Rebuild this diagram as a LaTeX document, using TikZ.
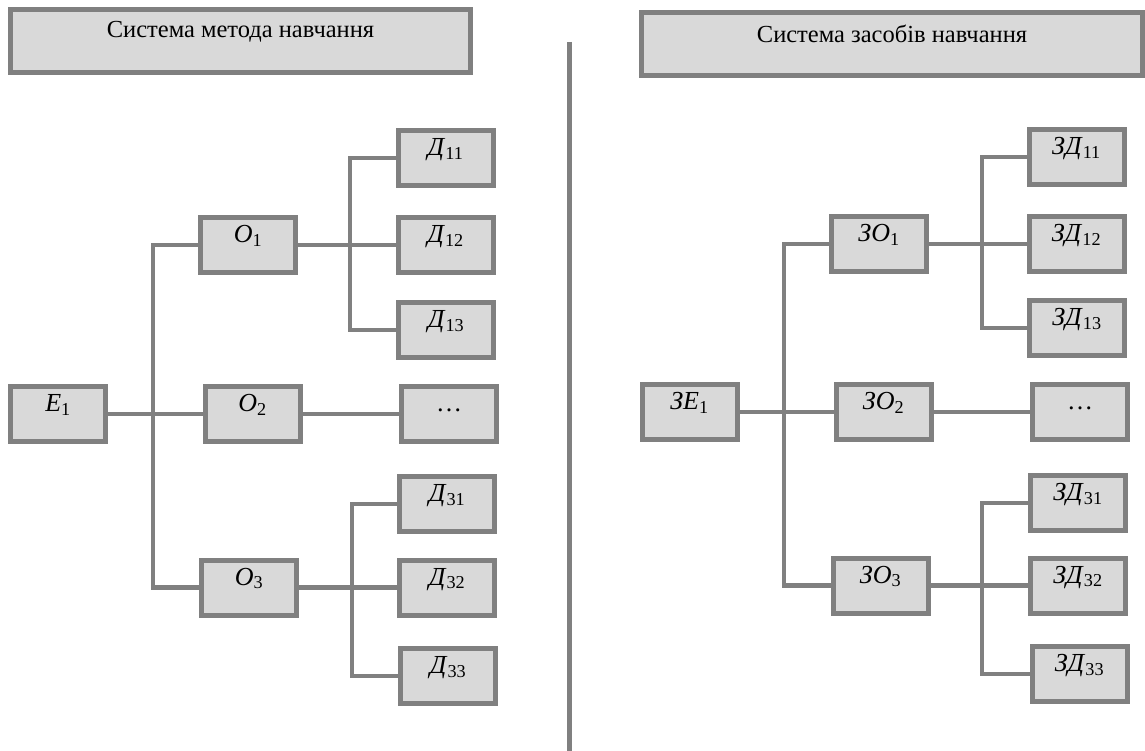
\documentclass[tikz,border=0pt]{standalone}
\usepackage{fontspec}
\setmainfont{Liberation Serif}
\definecolor{bord}{HTML}{808080}
\definecolor{boxfill}{HTML}{D9D9D9}
\newcommand{\mylab}[2]{\textit{#1}\textsubscript{#2}}
\begin{document}
\begin{tikzpicture}[x=1pt,y=-1pt,
  box/.style={draw=bord, fill=boxfill, line width=5pt, minimum width=95pt, minimum height=55pt,
    inner sep=0pt, text height=12pt, text depth=17pt, font=\fontsize{26}{30}\selectfont},
  titlebox/.style={draw=bord, fill=boxfill, line width=5pt, minimum height=63pt,
    inner sep=0pt, font=\fontsize{24.5}{28}\selectfont},
  conn/.style={draw=bord, line width=4.5pt}]
\useasboundingbox (0,0) rectangle (1145,751);
% titles
\node[titlebox, minimum width=460pt, text height=13pt, text depth=19pt] (tL) at (240.5,41) {Система метода навчання};
\node[titlebox, minimum width=501pt, text height=15pt, text depth=17pt] (tR) at (892,44) {Система засобів навчання};
% divider
\coordinate (dTop) at (569.5,42);
\coordinate (dBot) at (569.5,751);
\draw[conn] (dTop) -- (dBot);
% left tree
\node[box] (E1) at (58,414) {\mylab{E}{1}};
\node[box] (O1) at (248,245) {\mylab{O}{1}};
\node[box] (O2) at (252.5,414) {\mylab{O}{2}};
\node[box] (O3) at (249,587.5) {\mylab{O}{3}};
\node[box] (D11) at (445.5,158) {\mylab{Д}{11}};
\node[box] (D12) at (445.5,245) {\mylab{Д}{12}};
\node[box] (D13) at (446,330) {\mylab{Д}{13}};
\node[box] (dL) at (449,414) {…};
\node[box] (D31) at (447,504) {\mylab{Д}{31}};
\node[box] (D32) at (447,587.5) {\mylab{Д}{32}};
\node[box] (D33) at (448,676) {\mylab{Д}{33}};
\coordinate (jL) at (153,414);
\coordinate (s1) at (350,245);
\coordinate (s3) at (352,587.5);
\draw[conn] (E1.east) -- (O2.west);
\draw[conn] (O1.west) -| (jL) |- (O3.west);
\draw[conn] (O2.east) -- (dL.west);
\draw[conn] (O1.east) -- (D12.west);
\draw[conn] (D11.west) -| (s1) |- (D13.west);
\draw[conn] (O3.east) -- (D32.west);
\draw[conn] (D31.west) -| (s3) |- (D33.west);
% right tree
\node[box] (ZE1) at (689.5,412) {\mylab{ЗE}{1}};
\node[box] (ZO1) at (879,244) {\mylab{ЗO}{1}};
\node[box] (ZO2) at (883.5,412) {\mylab{ЗO}{2}};
\node[box] (ZO3) at (880.5,585.5) {\mylab{ЗO}{3}};
\node[box] (ZD11) at (1076.5,157) {\mylab{ЗД}{11}};
\node[box] (ZD12) at (1076.5,244) {\mylab{ЗД}{12}};
\node[box] (ZD13) at (1077,328) {\mylab{ЗД}{13}};
\node[box] (dR) at (1080,412) {…};
\node[box] (ZD31) at (1078,503) {\mylab{ЗД}{31}};
\node[box] (ZD32) at (1078,585.5) {\mylab{ЗД}{32}};
\node[box] (ZD33) at (1079.5,674) {\mylab{ЗД}{33}};
\coordinate (jR) at (784,412);
\coordinate (r1) at (982,244);
\coordinate (r3) at (982,585.5);
\draw[conn] (ZE1.east) -- (ZO2.west);
\draw[conn] (ZO1.west) -| (jR) |- (ZO3.west);
\draw[conn] (ZO2.east) -- (dR.west);
\draw[conn] (ZO1.east) -- (ZD12.west);
\draw[conn] (ZD11.west) -| (r1) |- (ZD13.west);
\draw[conn] (ZO3.east) -- (ZD32.west);
\draw[conn] (ZD31.west) -| (r3) |- (ZD33.west);
\end{tikzpicture}
\end{document}
